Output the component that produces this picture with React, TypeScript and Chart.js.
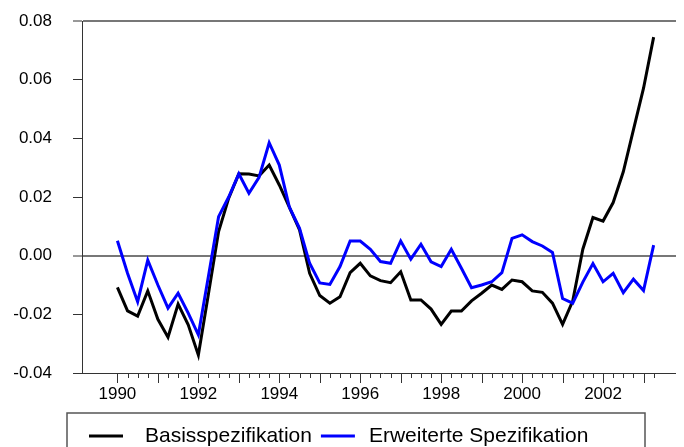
import React, { useEffect, useRef } from "react";
import { Chart, registerables } from "chart.js";

Chart.register(...registerables);

// Quarterly observations, 1990Q1 .. 2003Q2
const quarterLabels = [
  "1990Q1", "1990Q2", "1990Q3", "1990Q4", "1991Q1", "1991Q2", "1991Q3", "1991Q4",
  "1992Q1", "1992Q2", "1992Q3", "1992Q4", "1993Q1", "1993Q2", "1993Q3", "1993Q4",
  "1994Q1", "1994Q2", "1994Q3", "1994Q4", "1995Q1", "1995Q2", "1995Q3", "1995Q4",
  "1996Q1", "1996Q2", "1996Q3", "1996Q4", "1997Q1", "1997Q2", "1997Q3", "1997Q4",
  "1998Q1", "1998Q2", "1998Q3", "1998Q4", "1999Q1", "1999Q2", "1999Q3", "1999Q4",
  "2000Q1", "2000Q2", "2000Q3", "2000Q4", "2001Q1", "2001Q2", "2001Q3", "2001Q4",
  "2002Q1", "2002Q2", "2002Q3", "2002Q4", "2003Q1", "2003Q2",
];

const basisspezifikation = [
  -0.0108, -0.0188, -0.0206, -0.012, -0.0217, -0.0278, -0.0165, -0.0236,
  -0.0339, -0.013, 0.0082, 0.0196, 0.0279, 0.0278, 0.0272, 0.0309,
  0.0241, 0.0165, 0.0088, -0.006, -0.0136, -0.0162, -0.014, -0.0058,
  -0.0026, -0.0069, -0.0085, -0.0092, -0.0055, -0.0151, -0.0151, -0.0182,
  -0.0234, -0.0189, -0.0189, -0.0154, -0.0128, -0.01, -0.0115, -0.0083,
  -0.0089, -0.012, -0.0125, -0.0162, -0.0234, -0.0155, 0.0022, 0.013,
  0.0118, 0.0181, 0.0286, 0.0429, 0.0571, 0.0745,
];

const erweiterteSpezifikation = [
  0.0051, -0.006, -0.0157, -0.0015, -0.01, -0.0179, -0.0128, -0.0196,
  -0.027, -0.0069, 0.0133, 0.02, 0.0279, 0.0213, 0.0267, 0.0385,
  0.0309, 0.0165, 0.0093, -0.0026, -0.0093, -0.0098, -0.0037, 0.005,
  0.005, 0.0022, -0.002, -0.0026, 0.005, -0.0012, 0.0039, -0.0021,
  -0.0037, 0.0022, -0.0043, -0.0109, -0.01, -0.0089, -0.0058, 0.0059,
  0.0071, 0.0048, 0.0033, 0.0011, -0.0146, -0.0162, -0.009, -0.0027,
  -0.0089, -0.006, -0.0126, -0.008, -0.0119, 0.0036,
];

const seriesNames = ["Basisspezifikation", "Erweiterte Spezifikation"];
const seriesColors = ["#000000", "#0000ff"];

const xTickLabels = ["1990", "1992", "1994", "1996", "1998", "2000", "2002"];
const yTickValues = [-0.04, -0.02, 0.0, 0.02, 0.04, 0.06, 0.08];

const FONT = "'Liberation Sans', Arial, Helvetica, sans-serif";

const quarterTicksPlugin = {
  id: "quarterTicks",
  afterDraw(chart: any) {
    const xs = chart.scales.x;
    const ctx = chart.ctx;
    const yBase = chart.chartArea.bottom;
    ctx.save();
    ctx.strokeStyle = "#333333";
    ctx.lineWidth = 1;
    quarterLabels.forEach((q, i) => {
      const px = Math.round(xs.getPixelForValue(i)) + 0.5;
      const len = q.endsWith("Q1") ? 10 : 5;
      ctx.beginPath();
      ctx.moveTo(px, yBase);
      ctx.lineTo(px, yBase + len);
      ctx.stroke();
    });
    ctx.restore();
  },
};

const boxedLegendPlugin = {
  id: "boxedLegend",
  afterDraw(chart: any) {
    const ctx = chart.ctx;
    const area = chart.chartArea;
    const boxLeft = area.left - 15;
    const boxTop = area.bottom + 40;
    const boxRight = 637;
    ctx.save();
    ctx.strokeStyle = "#555555";
    ctx.lineWidth = 1.5;
    ctx.strokeRect(boxLeft, boxTop, boxRight - boxLeft, 80);
    ctx.font = `21px ${FONT}`;
    ctx.textBaseline = "middle";
    ctx.textAlign = "left";
    const yMid = boxTop + 23;
    let x = boxLeft + 22;
    const gapsAfterLine = [22, 14];
    chart.data.datasets.forEach((ds: any, i: number) => {
      ctx.strokeStyle = ds.borderColor;
      ctx.lineWidth = 3;
      ctx.beginPath();
      ctx.moveTo(x, yMid);
      ctx.lineTo(x + 34, yMid);
      ctx.stroke();
      x += 34 + gapsAfterLine[i];
      ctx.fillStyle = "#000000";
      ctx.fillText(ds.label, x, yMid);
      x += ctx.measureText(ds.label).width + 9;
    });
    ctx.restore();
  },
};

const isNear = (a: number, b: number) => Math.abs(a - b) < 1e-9;

export default function App() {
  const canvasRef = useRef<HTMLCanvasElement | null>(null);

  useEffect(() => {
    if (!canvasRef.current) return;
    const seriesData = [basisspezifikation, erweiterteSpezifikation];
    const chart = new Chart(canvasRef.current, {
      type: "line",
      data: {
        datasets: seriesData.map((arr, s) => ({
          label: seriesNames[s],
          data: arr.map((v, i) => ({ x: i, y: v })),
          borderColor: seriesColors[s],
          backgroundColor: seriesColors[s],
          borderWidth: 3,
          pointRadius: 0,
          tension: 0,
          fill: false,
          order: s === 0 ? 2 : 1,
        })),
      },
      options: {
        animation: false,
        responsive: false,
        devicePixelRatio: 1,
        layout: { padding: { top: 13, bottom: 44, left: 0, right: 0 } },
        plugins: {
          legend: { display: false },
          tooltip: { enabled: false },
        },
        scales: {
          x: {
            type: "linear",
            min: -3.5,
            max: 56,
            afterBuildTicks(scale: any) {
              scale.ticks = xTickLabels.map((y) => ({
                value: quarterLabels.indexOf(y + "Q1"),
              }));
            },
            afterFit(scale: any) {
              scale.height = 30;
              scale.paddingLeft = 0;
              scale.paddingRight = 0;
            },
            ticks: {
              autoSkip: false,
              maxRotation: 0,
              padding: 11,
              color: "#000000",
              font: { family: FONT, size: 17 },
              callback: (v: any) => {
                const q = quarterLabels[Number(v)];
                return q ? q.slice(0, 4) : "";
              },
            },
            grid: { display: true, drawOnChartArea: false, drawTicks: false },
            border: { display: true, color: "#333333", width: 1 },
          },
          y: {
            type: "linear",
            min: -0.04,
            max: 0.08,
            afterBuildTicks(scale: any) {
              scale.ticks = yTickValues.map((v) => ({ value: v }));
            },
            afterFit(scale: any) {
              scale.width = 74;
              scale.paddingTop = 0;
              scale.paddingBottom = 0;
            },
            ticks: {
              padding: 21,
              color: "#000000",
              font: { family: FONT, size: 17 },
              callback: (v: any) => Number(v).toFixed(2),
            },
            grid: {
              drawOnChartArea: true,
              tickLength: 9,
              tickColor: "#333333",
              tickWidth: 1,
              color: (c: any) =>
                c.tick && (isNear(c.tick.value, 0) || isNear(c.tick.value, 0.08))
                  ? "#777777"
                  : "rgba(0,0,0,0)",
              lineWidth: (c: any) =>
                c.tick && (isNear(c.tick.value, 0) || isNear(c.tick.value, 0.08)) ? 2 : 1,
            },
            border: { display: true, color: "#333333", width: 1 },
          },
        },
      },
      plugins: [quarterTicksPlugin, boxedLegendPlugin],
    });
    return () => chart.destroy();
  }, []);

  return (
    <canvas
      ref={canvasRef}
      width={676}
      height={439}
      style={{ display: "block", width: "676px", height: "439px" }}
    />
  );
}
